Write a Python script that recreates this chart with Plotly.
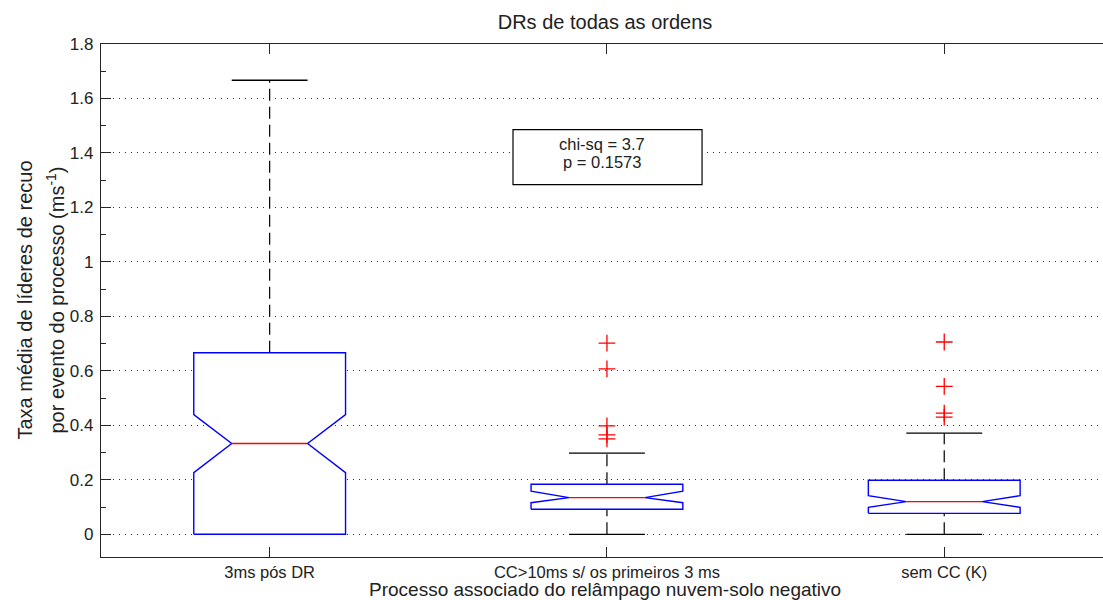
import plotly.graph_objects as go

# ---------------- data ----------------
categories = ["3ms pós DR", "CC>10ms s/ os primeiros 3 ms", "sem CC (K)"]
positions = [1, 2, 3]
q1 = [0.0, 0.092, 0.077]
median = [0.3333, 0.1346, 0.1199]
q3 = [0.6667, 0.1838, 0.1985]
notch_lo = [0.2266, 0.116, 0.099]
notch_hi = [0.4397, 0.158, 0.142]
whisker_lo = [0.0, 0.0, 0.0]
whisker_hi = [1.667, 0.2978, 0.3713]
outliers = [
    [],
    [0.702, 0.607, 0.398, 0.365, 0.350],
    [0.706, 0.543, 0.445, 0.430],
]
stat_text = ["chi-sq = 3.7", "p = 0.1573"]

# ---------------- style ----------------
FONT = "Liberation Sans, Arial, Helvetica, sans-serif"
TXT = "#222222"
BOX_HALF = 0.225
CAP_HALF = BOX_HALF / 2
NOTCH_HALF = BOX_HALF / 2

fig = go.Figure()

# whiskers (dashed)
wx, wy = [], []
for p, lo, a, b, hi in zip(positions, whisker_lo, q1, q3, whisker_hi):
    if hi > b:
        wx += [p, p, None]
        wy += [b, hi, None]
    if lo < a:
        wx += [p, p, None]
        wy += [lo, a, None]
fig.add_trace(go.Scatter(x=wx, y=wy, mode="lines",
                         line=dict(color="#000000", width=1.2, dash="12px,6px"),
                         hoverinfo="skip", showlegend=False))

# whisker caps
cx, cy = [], []
for p, lo, hi in zip(positions, whisker_lo, whisker_hi):
    cx += [p - CAP_HALF, p + CAP_HALF, None, p - CAP_HALF, p + CAP_HALF, None]
    cy += [lo, lo, None, hi, hi, None]
fig.add_trace(go.Scatter(x=cx, y=cy, mode="lines",
                         line=dict(color="#000000", width=1.3),
                         hoverinfo="skip", showlegend=False))

# notched boxes
for p, a, m, b, nl, nh in zip(positions, q1, median, q3, notch_lo, notch_hi):
    bx = [p - BOX_HALF, p + BOX_HALF, p + BOX_HALF, p + NOTCH_HALF, p + BOX_HALF,
          p + BOX_HALF, p - BOX_HALF, p - BOX_HALF, p - NOTCH_HALF, p - BOX_HALF, p - BOX_HALF]
    by = [a, a, nl, m, nh, b, b, nh, m, nl, a]
    fig.add_trace(go.Scatter(x=bx, y=by, mode="lines", fill="toself",
                             fillcolor="#ffffff",
                             line=dict(color="#0000ff", width=1.4),
                             hoverinfo="skip", showlegend=False))

# medians
mx, my = [], []
for p, m in zip(positions, median):
    mx += [p - NOTCH_HALF, p + NOTCH_HALF, None]
    my += [m, m, None]
fig.add_trace(go.Scatter(x=mx, y=my, mode="lines",
                         line=dict(color="#ff0000", width=1.4),
                         hoverinfo="skip", showlegend=False))

# outliers
ox, oy = [], []
for p, outs in zip(positions, outliers):
    for v in outs:
        ox.append(p)
        oy.append(v)
fig.add_trace(go.Scatter(x=ox, y=oy, mode="markers",
                         marker=dict(symbol="cross-thin", size=12,
                                     line=dict(color="#ff0000", width=1.3)),
                         hoverinfo="skip", showlegend=False))

# statistics box
fig.add_shape(type="rect", xref="x", yref="y", x0=1.7215, x1=2.282, y0=1.284, y1=1.486,
              line=dict(color="#000000", width=1.2), fillcolor="#ffffff", layer="above")
fig.add_annotation(x=1.984, y=1.434, xref="x", yref="y", text=stat_text[0], showarrow=False,
                   font=dict(family=FONT, size=16.5, color=TXT), xanchor="center", yanchor="middle")
fig.add_annotation(x=1.984, y=1.366, xref="x", yref="y", text=stat_text[1], showarrow=False,
                   font=dict(family=FONT, size=16.5, color=TXT), xanchor="center", yanchor="middle")

# y label (two lines) and x label
fig.add_annotation(x=-0.0768, y=0.5, xref="paper", yref="paper",
                   text="Taxa média de líderes de recuo", textangle=-90, showarrow=False,
                   font=dict(family=FONT, size=20, color=TXT), xanchor="center", yanchor="middle")
fig.add_annotation(x=-0.0459, y=0.5, xref="paper", yref="paper",
                   text="por evento do processo (ms<sup>-1</sup>)", textangle=-90, showarrow=False,
                   font=dict(family=FONT, size=20, color=TXT), xanchor="center", yanchor="middle")
fig.add_annotation(x=0.503, y=-0.0643, xref="paper", yref="paper",
                   text="Processo associado do relâmpago nuvem-solo negativo", showarrow=False,
                   font=dict(family=FONT, size=19, color=TXT), xanchor="center", yanchor="middle")

fig.update_layout(
    width=1103, height=600,
    margin=dict(l=101, r=0, t=44, b=43),
    paper_bgcolor="#ffffff", plot_bgcolor="#ffffff",
    font=dict(family=FONT, color=TXT),
    title=dict(text="DRs de todas as ordens", x=605 / 1103, xanchor="center",
               y=1 - 22 / 600, yanchor="middle", yref="container",
               font=dict(family=FONT, size=20, color=TXT)),
    xaxis=dict(range=[0.5, 3.4707], tickvals=positions, ticktext=categories,
               ticks="inside", ticklen=10, tickcolor="#262626", tickwidth=1,
               showline=True, linecolor="#262626", linewidth=1.2, mirror="ticks",
               showgrid=False, zeroline=False,
               tickfont=dict(family=FONT, size=16.5, color=TXT)),
    yaxis=dict(range=[-0.0833, 1.8], tick0=0, dtick=0.2,
               ticks="inside", ticklen=10, tickcolor="#262626", tickwidth=1,
               showline=True, linecolor="#262626", linewidth=1.2, mirror=False,
               showgrid=True, gridcolor="#333333", gridwidth=1, griddash="1px,5px",
               zeroline=False, ticklabelstandoff=3,
               minor=dict(dtick=0.1, tick0=0, ticks="inside", ticklen=5,
                          tickcolor="#262626", showgrid=False),
               tickfont=dict(family=FONT, size=17, color=TXT)),
)

fig.write_html("out.html", config={"displayModeBar": False},
               post_script="document.body.style.margin='0';document.body.style.overflow='hidden';")
